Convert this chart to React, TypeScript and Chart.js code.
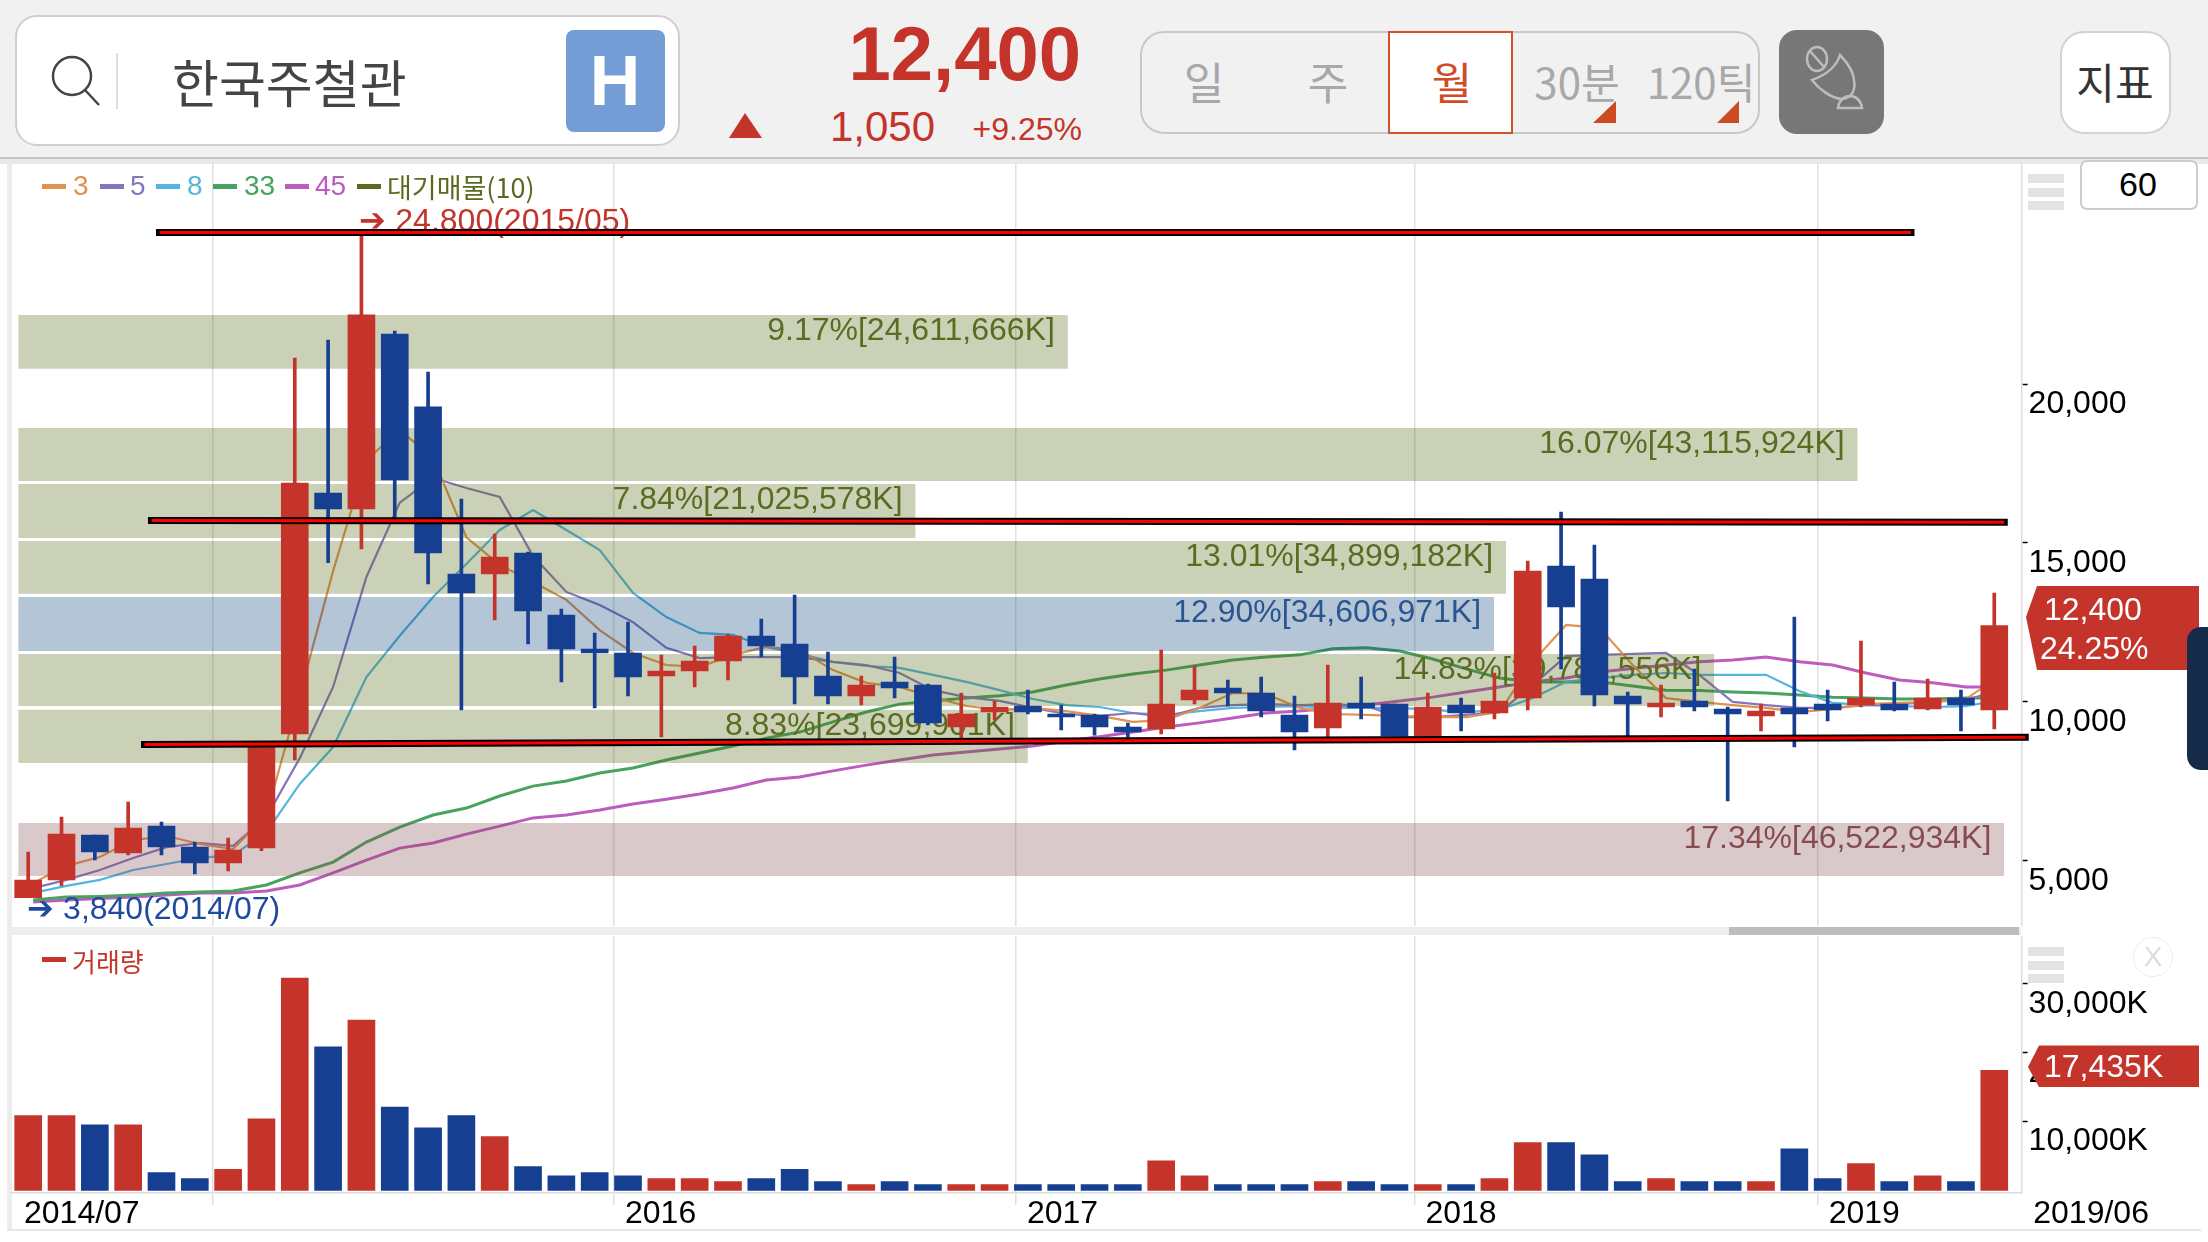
import React, { useEffect, useRef } from "react";
import { Chart, registerables } from "chart.js";

Chart.register(...registerables);

const LATIN = '"Liberation Sans", Arial, sans-serif';
const KR = '"Noto Sans CJK KR", "Noto Sans", sans-serif';
const RED = "#c4342a";
const BLUE = "#163f92";

const stockName = "한국주철관";
const lastPrice = "12,400";
const change = "1,050";
const changePct = "+9.25%";
const periods = ["일", "주", "월", "30분", "120틱"];

const opens = [3840,4395,5811,5245,6095,5434,4930,5402,8990,16574,16070,21577,19281,14025,14025,14686,12735,11665,11539,10815,10972,11287,12074,11822,10815,10186,10626,10532,9210,9682,9871,9619,9588,9210,9147,10060,10437,10280,9588,9178,9965,9934,8927,9902,9651,10123,14277,13867,10186,9839,10028,9777,9556,9808,9934,9902,9934,9777,10123,9745];
const closes = [4395,5843,5276,6032,5434,4930,5339,8738,16889,16070,22176,16983,14686,13427,14560,12860,11665,11539,10784,10972,11287,12074,11759,10784,10186,10532,10437,9336,9619,9839,9682,9525,9210,9053,9934,10374,10280,9713,9053,9965,9808,8927,9839,9651,10028,14115,12986,10217,9934,9965,9839,9619,9713,9619,9745,10123,9745,10123,9902,12400];
const highs = [5276,6378,5811,6850,6220,5591,5717,8738,20822,21386,24800,21671,20382,16385,15284,14717,12924,12168,12514,11476,11759,12137,12609,13364,11570,10815,11413,10563,10280,10028,10374,9902,9619,9336,11633,11130,10689,10784,10186,11161,10784,9934,10280,10123,10909,14431,15975,14938,10312,10532,11035,9839,9934,12671,10374,11916,10626,10721,10374,13427];
const lows = [3840,4216,5024,5182,5182,4584,4678,5317,8172,14381,14812,15818,13710,9745,12577,11822,10626,9808,10186,8895,10469,10689,11413,9934,9934,9902,10123,9273,8864,9430,9619,9116,8950,8895,8990,9934,9871,9525,8486,8895,9462,8927,8927,9084,9462,9745,11035,9871,8895,9525,9713,6881,9084,8581,9399,9839,9713,9745,9084,9147];
const volumes = [10862,10862,9540,9540,2586,1724,3046,10402,30861,20862,24770,12126,9080,10862,7816,3448,2126,2586,2126,1724,1724,1264,1724,3046,1264,862,1264,862,862,862,862,862,862,862,4310,2126,862,862,862,1264,1264,862,862,862,1724,6954,6954,5172,1264,1724,1264,1264,1264,6034,1724,3908,1264,2126,1264,17435];
const upFlags = [1,1,0,1,0,0,1,1,1,0,1,0,0,0,1,0,0,0,0,1,1,1,0,0,0,1,0,0,1,1,0,0,0,0,1,1,0,0,0,1,0,0,1,0,1,1,0,0,0,1,0,0,1,0,0,1,0,1,0,1];

const ma3 = [4300,4840,5120,5650,5780,5530,5370,6450,10200,14120,17610,18560,17670,15180,14310,13770,13210,12260,11540,11160,11100,11480,11730,11630,11000,10600,10470,10150,9870,9750,9810,9710,9560,9370,9430,9810,10280,10250,9810,9620,9590,9560,9520,9520,9680,11260,12420,12330,11160,10120,10000,9900,9810,9680,9780,9930,9970,10000,10090,10810];
const ma5 = [4140,4400,4710,5090,5430,5560,5470,6380,8230,10470,13930,16270,17050,16730,16450,14590,13460,13050,12510,11700,11380,11410,11410,11410,11260,11160,10910,10370,10150,10030,9810,9620,9560,9650,9520,9810,9900,9930,9900,9930,9870,9520,9520,9590,9680,10530,11440,11480,11510,11540,10850,10000,9900,9810,9810,9900,9930,10000,10060,10370];
const ma8 = [3990,4210,4400,4710,4900,5090,5180,5900,7420,8580,10780,12080,13300,14340,15410,16040,15410,14780,13430,12670,12170,12110,11730,11510,11260,11130,11070,10850,10630,10370,10090,9900,9840,9650,9590,9710,9810,9840,9870,9810,9810,9810,9750,9680,9750,10120,10630,10750,10850,10910,10850,10850,10850,10340,9970,9900,9870,9840,9870,10060];
const ma33 = [3770,3860,3880,3920,3990,4020,4050,4240,4620,4960,5590,6060,6440,6660,7040,7350,7510,7760,7920,8170,8390,8610,8860,9050,9370,9680,9930,10030,10120,10190,10310,10530,10720,10880,11000,11160,11320,11410,11480,11670,11700,11600,11350,11040,10750,10630,10630,10630,10500,10370,10360,10310,10280,10220,10150,10120,10090,10090,10120,10120];
const ma45 = [3700,3770,3810,3860,3920,3990,3990,4050,4240,4620,5020,5400,5560,5840,6090,6350,6440,6600,6790,6940,7100,7290,7540,7640,7830,8010,8170,8330,8420,8520,8610,8770,8900,9050,9210,9340,9490,9650,9710,9810,9900,10030,10150,10310,10470,10630,10750,10940,11050,11160,11260,11320,11410,11260,11160,10910,10690,10600,10470,10470];
const maShift = 0.15;

const zoneHigh = [22176,18620,16860,15060,13300,11510,9750,6190];
const zoneLow = [20480,16950,15160,13400,11600,9870,8080,4520];
const zoneEnd = [31.2,54.9,26.63,44.35,43.99,50.6,30.0,59.3];
const zoneStart = -0.3;
const zoneLabels = ["9.17%[24,611,666K]","16.07%[43,115,924K]","7.84%[21,025,578K]","13.01%[34,899,182K]","12.90%[34,606,971K]","14.83%[39,786,556K]","8.83%[23,699,901K]","17.34%[46,522,934K]"];
const zoneFill = ["rgba(82,102,15,.3)","rgba(82,102,15,.3)","rgba(82,102,15,.3)","rgba(82,102,15,.3)","rgba(8,62,118,.3)","rgba(82,102,15,.3)","rgba(82,102,15,.3)","rgba(132,75,78,.3)"];
const zoneText = ["#5b6b20","#5b6b20","#5b6b20","#5b6b20","#2a5590","#5b6b20","#5b6b20","#874b50"];

const levelX = [[3.94,56.5],[3.7,59.3],[3.49,59.93]];
const levelY = [[24770,24770],[15710,15650],[8660,8890]];

const priceTicks = [5000,10000,15000,20000];
const volumeTicks = [10000,20000,30000];
const gridYears = [5.54,17.58,29.64,41.6,53.7];
const xTickValues = [-0.456,5.54,17.58,29.64,41.6,53.7,59.84];
const xTickLabels = ["2014/07","","2016","2017","2018","2019","2019/06"];

const highNote = { index: 10, value: 24800, text: "➔ 24,800(2015/05)" };
const lowNote = { index: 0, value: 3840, text: "➔ 3,840(2014/07)" };

const legendItems = [["3","#e0924f"],["5","#8674be"],["8","#55b5de"],["33","#47a35f"],["45","#bd5cbf"],["대기매물(10)","#5a6b1f"]];

const X_MIN = -0.516;
const X_MAX = 59.82;
const idx = opens.map((_, i) => i);
const candleColors = upFlags.map((u) => (u ? RED : BLUE));

function xyLine(arr: number[]) {
  return arr.map((v, i) => ({ x: i + maShift, y: v }));
}

const noteFont = `32px ${LATIN}`;
const zoneTextPlugin = {
  id: "zoneText",
  afterDatasetDraw(chart: any, args: any) {
    if (!chart.data.datasets[args.index].firstZone) return;
    const { ctx, scales } = chart;
    ctx.save();
    ctx.font = noteFont;
    ctx.textBaseline = "middle";
    ctx.textAlign = "right";
    zoneLabels.forEach((t, i) => {
      ctx.fillStyle = zoneText[i];
      ctx.fillText(t, scales.x.getPixelForValue(zoneEnd[i]) - 13, scales.y.getPixelForValue(zoneHigh[i]) + 16);
    });
    ctx.textAlign = "left";
    ctx.fillStyle = RED;
    ctx.fillText(highNote.text, scales.x.getPixelForValue(highNote.index) - 2, scales.y.getPixelForValue(highNote.value) - 9);
    ctx.fillStyle = "#1f4b9e";
    ctx.fillText(lowNote.text, scales.x.getPixelForValue(lowNote.index) - 1, scales.y.getPixelForValue(lowNote.value) + 13);
    ctx.restore();
  },
};

function T(p: any) {
  const { x, y, s, c, w, f, a } = p;
  const tx = a === "l" ? "0" : a === "r" ? "-100%" : "-50%";
  return (
    <div
      style={{
        position: "absolute",
        left: x,
        top: y,
        transform: `translate(${tx},-50%)`,
        fontSize: s,
        color: c,
        fontWeight: w || 400,
        fontFamily: f || LATIN,
        lineHeight: 1,
        whiteSpace: "nowrap",
      }}
    >
      {p.children}
    </div>
  );
}

function B(p: any) {
  const { x, y, w, h, ...rest } = p;
  return <div style={{ position: "absolute", left: x, top: y, width: w, height: h, boxSizing: "border-box", ...rest }} />;
}

const legendSwatch = [42,100,156,213,285,357];
const legendTextX = [73,130,187,244,315,387];

const fitY = (s: any) => { s.width = 186.4; s.paddingTop = 0; s.paddingBottom = 0; };

export default function App() {
  const priceRef = useRef<HTMLCanvasElement>(null);
  const volRef = useRef<HTMLCanvasElement>(null);

  useEffect(() => {
    document.body.style.margin = "0";
    const zoneSets = zoneHigh.map((h, i) => ({
      type: "line",
      data: [{ x: zoneStart, y: h }, { x: zoneEnd[i], y: h }],
      fill: { value: zoneLow[i] },
      backgroundColor: zoneFill[i],
      borderColor: "transparent",
      borderWidth: 0,
      pointRadius: 0,
      order: 100,
      firstZone: i === 0,
    }));
    const maSet = (arr: number[], color: string, width: number) => ({
      type: "line",
      data: xyLine(arr),
      borderColor: color,
      borderWidth: width,
      pointRadius: 0,
      tension: 0,
      fill: false,
      order: 200,
    });
    const levelSets = levelX.flatMap((xs, i) => {
      const data = [{ x: xs[0], y: levelY[i][0] }, { x: xs[1], y: levelY[i][1] }];
      return [
        { type: "line", data, borderColor: "#000", borderWidth: 7, borderCapStyle: "square", pointRadius: 0, fill: false, order: 1, clip: 20 },
        { type: "line", data, borderColor: "#ff0000", borderWidth: 3, pointRadius: 0, fill: false, order: 0, clip: 20 },
      ];
    });
    const price = new Chart(priceRef.current as HTMLCanvasElement, {
      type: "line",
      data: {
        datasets: [
          ...levelSets,
          {
            type: "bar",
            data: idx.map((i) => ({ x: i, y: [Math.min(opens[i], closes[i]), Math.max(opens[i], closes[i])] })),
            backgroundColor: candleColors,
            barThickness: 27,
            grouped: false,
            order: 2,
          },
          {
            type: "bar",
            data: idx.map((i) => ({ x: i, y: [lows[i], highs[i]] })),
            backgroundColor: candleColors,
            barThickness: 3,
            grouped: false,
            order: 3,
          },
          ...zoneSets,
          maSet(ma3, "#e0924f", 2.2),
          maSet(ma5, "#8674be", 2.2),
          maSet(ma8, "#55b5de", 2.2),
          maSet(ma33, "#47a35f", 3),
          maSet(ma45, "#bd5cbf", 3),
        ] as any,
      },
      options: {
        animation: false,
        responsive: false,
        layout: { padding: { left: 11, top: 5.7, right: 0, bottom: 9.4 } },
        plugins: { legend: { display: false }, tooltip: { enabled: false } },
        scales: {
          x: {
            type: "linear",
            min: X_MIN,
            max: X_MAX,
            offset: false,
            afterBuildTicks: (s: any) => { s.ticks = gridYears.map((value) => ({ value })); },
            ticks: { display: false },
            afterFit: (s: any) => { s.height = 0; s.paddingLeft = 0; s.paddingRight = 0; },
            grid: { offset: false, color: "#e0e0e0", lineWidth: 1.5, drawTicks: false },
            border: { display: false },
          },
          y: {
            position: "right",
            min: 2961,
            max: 26935,
            afterBuildTicks: (s: any) => { s.ticks = priceTicks.map((value) => ({ value })); },
            afterFit: fitY,
            ticks: {
              color: "#000",
              font: { size: 32, family: LATIN },
              labelOffset: 20,
              padding: 1,
              callback: (v: any) => Number(v).toLocaleString("en-US"),
            },
            grid: { drawOnChartArea: false, tickColor: "#000", tickLength: 6, tickWidth: 1.5 },
            border: { color: "#dddddd", width: 1.5 },
          },
        },
      } as any,
      plugins: [zoneTextPlugin] as any,
    });

    const vol = new Chart(volRef.current as HTMLCanvasElement, {
      type: "bar",
      data: {
        datasets: [
          {
            data: idx.map((i) => ({ x: i, y: volumes[i] })),
            backgroundColor: candleColors,
            barThickness: 27,
          },
        ],
      },
      options: {
        animation: false,
        responsive: false,
        layout: { padding: { left: 11, top: 0.5, right: 0, bottom: 0 } },
        plugins: { legend: { display: false }, tooltip: { enabled: false } },
        scales: {
          x: {
            type: "linear",
            min: X_MIN,
            max: X_MAX,
            offset: false,
            afterBuildTicks: (s: any) => { s.ticks = xTickValues.map((value) => ({ value })); },
            afterFit: (s: any) => { s.height = 48; s.paddingLeft = 0; s.paddingRight = 0; },
            ticks: {
              autoSkip: false,
              maxRotation: 0,
              minRotation: 0,
              align: "start",
              labelOffset: 11,
              padding: -10,
              color: "#000",
              font: { size: 32, family: LATIN },
              callback: (_: any, i: number) => xTickLabels[i],
            },
            grid: {
              offset: false,
              tickLength: 12,
              lineWidth: 1.5,
              color: (c: any) => (xTickLabels[c.index] === "2014/07" || xTickLabels[c.index] === "2019/06" ? "transparent" : "#e0e0e0"),
            },
            border: { color: "#dddddd", width: 1.5 },
          },
          y: {
            position: "right",
            min: -378,
            max: 36904,
            afterBuildTicks: (s: any) => { s.ticks = volumeTicks.map((value) => ({ value })); },
            afterFit: fitY,
            ticks: {
              color: "#000",
              font: { size: 32, family: LATIN },
              labelOffset: 20,
              padding: 1,
              callback: (v: any) => Number(v).toLocaleString("en-US") + "K",
            },
            grid: { drawOnChartArea: false, tickColor: "#000", tickLength: 6, tickWidth: 1.5 },
            border: { color: "#dddddd", width: 1.5 },
          },
        },
      } as any,
    });

    return () => {
      price.destroy();
      vol.destroy();
    };
  }, []);

  return (
    <div style={{ position: "absolute", left: 0, top: 0, width: 2208, height: 1242, overflow: "hidden", background: "#ffffff" }}>
      {/* header */}
      <B x={0} y={0} w={2208} h={157} background="#f1f1f1" />
      <B x={0} y={157} w={2208} h={7} background="#e9e9e9" borderTop="2px solid #c6c6c6" />
      <B x={15} y={15} w={665} h={131} background="#fff" border="2.5px solid #cfcfcf" borderRadius={22} />
      <B x={116} y={53} w={2} h={56} background="#dddddd" />
      <T x={172} y={81} s={51} c="#444" f={KR} a="l">{stockName}</T>
      <B x={566} y={30} w={99} h={102} background="#749dd6" borderRadius={8} />
      <T x={615} y={81} s={70} c="#fff" w={700}>H</T>
      <T x={1081} y={54} s={76} c={RED} w={700} a="r">{lastPrice}</T>
      <T x={935} y={127} s={42} c={RED} a="r">{change}</T>
      <T x={1082} y={129} s={32} c={RED} a="r">{changePct}</T>

      <B x={1140} y={31} w={620} h={103} background="#f1f1f1" border="2.5px solid #c8c8c8" borderRadius={24} />
      <B x={1388} y={31} w={125} h={103} background="#fff" border="2.5px solid #d2502c" />
      <T x={1204} y={81} s={44} c="#a8a8a8" f={KR}>{periods[0]}</T>
      <T x={1328} y={81} s={44} c="#a8a8a8" f={KR}>{periods[1]}</T>
      <T x={1452} y={81} s={44} c="#cf4c25" f={KR}>{periods[2]}</T>
      <T x={1577} y={81} s={42} c="#a8a8a8" f={KR}>{periods[3]}</T>
      <T x={1701} y={81} s={42} c="#a8a8a8" f={KR}>{periods[4]}</T>
      <B x={1779} y={30} w={105} h={104} background="#777777" borderRadius={18} />
      <B x={2060} y={31} w={111} h={103} background="#fff" border="2.5px solid #d3d3d3" borderRadius={24} />
      <T x={2115} y={81} s={42} c="#333" f={KR}>지표</T>

      {/* chart panes */}
      <B x={7} y={164} w={5} h={1066} background="#ececec" />
      <canvas ref={priceRef} width={2208} height={777} style={{ position: "absolute", left: 0, top: 158, display: "block" }} />
      <B x={12} y={926.5} w={2009} h={8.5} background="#eeeeee" />
      <B x={1729} y={926.5} w={290} h={8.5} background="#bdbdbd" />
      <canvas ref={volRef} width={2208} height={305} style={{ position: "absolute", left: 0, top: 936, display: "block" }} />
      <B x={7} y={1229} w={2194} h={2} background="#e6e6e6" />

      {/* legends */}
      {legendItems.map((it, i) => (
        <React.Fragment key={i}>
          <B x={legendSwatch[i]} y={183.5} w={24} h={5} background={it[1]} />
          <T x={legendTextX[i]} y={186} s={i === 5 ? 27 : 28} c={it[1]} f={i === 5 ? KR : LATIN} a="l">{it[0]}</T>
        </React.Fragment>
      ))}
      <B x={42} y={957} w={24} h={5} background={RED} />
      <T x={72} y={961} s={26} c={RED} f={KR} a="l">거래량</T>

      {/* right side widgets */}
      {[174,188,201,947,961,974].map((y) => (
        <B key={y} x={2028} y={y} w={36} h={8.5} background="#e3e3e3" />
      ))}
      <B x={2080} y={160} w={118} h={50} background="#fff" border="2.5px solid #cccccc" borderRadius={7} />
      <T x={2138} y={184} s={34} c="#000">60</T>
      <B x={2133} y={937} w={40} h={40} border="1.5px solid #ececec" borderRadius={20} />
      <T x={2153} y={957} s={28} c="#dddddd">X</T>

      <svg width={2208} height={1242} style={{ position: "absolute", left: 0, top: 0, pointerEvents: "none" }}>
        <circle cx={72} cy={76} r={19} fill="none" stroke="#444" strokeWidth={2.5} />
        <line x1={85} y1={90} x2={99} y2={105} stroke="#444" strokeWidth={2.5} />
        <polygon points="745,113 762,138 729,138" fill={RED} />
        <polygon points="1616,101 1616,123 1593,123" fill="#cc4b22" />
        <polygon points="1739,101 1739,123 1717,123" fill="#cc4b22" />
        <g fill="none" stroke="#bdbdbd" strokeWidth={2.5}>
          <ellipse cx={1817} cy={59} rx={10} ry={12} />
          <line x1={1810} y1={51} x2={1824} y2={67} />
          <path d="M1840 55 C1860 75 1858 98 1842 99 C1830 98 1818 88 1812 80 C1826 75 1836 68 1840 55 Z" />
          <path d="M1838 108 C1840 92 1860 92 1862 108 Z" />
        </g>
        <polygon points="2037,586 2199,586 2199,670 2037,670 2026,617" fill={RED} />
        <polygon points="2039,1045.5 2199,1045.5 2199,1087 2039,1087 2028,1067" fill={RED} />
      </svg>
      <T x={2044} y={609} s={32} c="#fff" a="l">{lastPrice}</T>
      <T x={2040} y={648} s={32} c="#fff" a="l">24.25%</T>
      <T x={2044} y={1066} s={32} c="#fff" a="l">17,435K</T>
      <B x={2187} y={627} w={21} h={143} background="#162a4a" borderRadius="14px 0 0 14px" />
    </div>
  );
}
